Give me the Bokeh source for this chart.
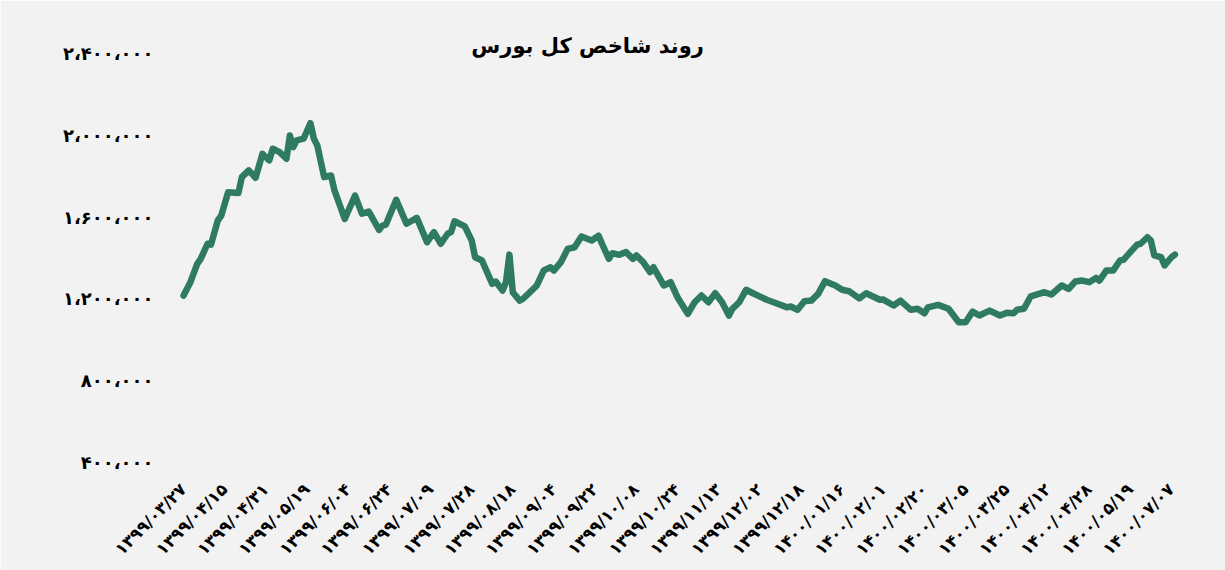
import math
from bokeh.plotting import figure
from bokeh.models import FixedTicker, Range1d, Label
from bokeh.embed import file_html
from bokeh.resources import INLINE

# ---- data (trading-day index, index value) ----
day_index = [0, 2, 4, 5, 7, 8, 10, 11, 13, 16, 17, 19, 21, 23, 25, 26, 28, 30, 31, 32,
             33, 35, 37, 38, 39, 41, 43, 44, 47, 50, 52, 54, 57, 58, 59, 62, 65, 68, 71, 73,
             75, 77, 78, 79, 82, 84, 85, 87, 90, 91, 93, 94, 95, 96, 98, 99, 101, 103, 105, 106,
             107, 108, 110, 112, 114, 116, 119, 121, 122, 124, 125, 127, 129, 131, 132, 134, 136, 137, 140, 142,
             144, 147, 149, 151, 153, 155, 157, 159, 160, 162, 164, 166, 170, 172, 176, 177, 179, 181, 183, 185,
             187, 190, 192, 194, 197, 199, 203, 204, 207, 209, 212, 214, 216, 217, 220, 223, 226, 228, 230, 232,
             235, 238, 240, 242, 243, 245, 247, 251, 253, 256, 258, 260, 262, 264, 266, 267, 269, 271, 273, 274,
             276, 278, 279, 281, 282, 283, 285, 286, 288, 289]
index_value = [1217000, 1282000, 1372000, 1396000, 1470000, 1466000, 1584000, 1608000, 1722000, 1718000,
               1796000, 1829000, 1793000, 1910000, 1878000, 1935000, 1918000, 1886000, 2000000, 1943000,
               1976000, 1984000, 2060000, 1984000, 1951000, 1796000, 1804000, 1731000, 1592000, 1706000,
               1617000, 1628000, 1538000, 1559000, 1564000, 1685000, 1568000, 1597000, 1478000, 1527000,
               1470000, 1519000, 1527000, 1580000, 1555000, 1486000, 1404000, 1388000, 1274000, 1285000,
               1241000, 1282000, 1417000, 1232000, 1192000, 1201000, 1233000, 1266000, 1339000, 1347000,
               1355000, 1339000, 1380000, 1445000, 1453000, 1506000, 1486000, 1509000, 1470000, 1396000,
               1424000, 1416000, 1429000, 1396000, 1413000, 1380000, 1331000, 1355000, 1266000, 1282000,
               1208000, 1127000, 1184000, 1217000, 1184000, 1228000, 1184000, 1119000, 1152000, 1184000,
               1245000, 1228000, 1196000, 1184000, 1159000, 1163000, 1147000, 1189000, 1192000, 1225000,
               1287000, 1266000, 1245000, 1238000, 1203000, 1228000, 1196000, 1197000, 1168000, 1192000,
               1147000, 1152000, 1130000, 1159000, 1171000, 1152000, 1086000, 1086000, 1138000, 1119000,
               1143000, 1119000, 1132000, 1130000, 1147000, 1152000, 1213000, 1233000, 1222000, 1266000,
               1249000, 1285000, 1290000, 1282000, 1303000, 1290000, 1339000, 1339000, 1388000, 1391000,
               1429000, 1466000, 1470000, 1502000, 1486000, 1413000, 1404000, 1364000, 1404000, 1417000]

x_tick_labels = ["۱۳۹۹/۰۳/۲۷", "۱۳۹۹/۰۴/۱۵", "۱۳۹۹/۰۴/۳۱", "۱۳۹۹/۰۵/۱۹", "۱۳۹۹/۰۶/۰۴",
                 "۱۳۹۹/۰۶/۲۴", "۱۳۹۹/۰۷/۰۹", "۱۳۹۹/۰۷/۲۸", "۱۳۹۹/۰۸/۱۸", "۱۳۹۹/۰۹/۰۴",
                 "۱۳۹۹/۰۹/۲۲", "۱۳۹۹/۱۰/۰۸", "۱۳۹۹/۱۰/۲۴", "۱۳۹۹/۱۱/۱۳", "۱۳۹۹/۱۲/۰۲",
                 "۱۳۹۹/۱۲/۱۸", "۱۴۰۰/۰۱/۱۶", "۱۴۰۰/۰۲/۰۱", "۱۴۰۰/۰۲/۲۰", "۱۴۰۰/۰۳/۰۵",
                 "۱۴۰۰/۰۳/۲۵", "۱۴۰۰/۰۴/۱۲", "۱۴۰۰/۰۴/۲۸", "۱۴۰۰/۰۵/۱۹", "۱۴۰۰/۰۷/۰۷"]
x_tick_step = 12

y_ticks = [400000, 800000, 1200000, 1600000, 2000000, 2400000]
y_tick_labels = ["۴۰۰،۰۰۰", "۸۰۰،۰۰۰", "۱،۲۰۰،۰۰۰", "۱،۶۰۰،۰۰۰", "۲،۰۰۰،۰۰۰", "۲،۴۰۰،۰۰۰"]

title_text = "روند شاخص کل بورس"

BG = "#f2f2f2"
LINE = "#2f7b5f"
FONT = "DejaVu Sans"

p = figure(width=1225, height=570, output_backend="svg", toolbar_location=None,
           x_range=Range1d(-3.8, 292.1), y_range=Range1d(400000, 2572000),
           min_border_left=170, min_border_right=40, min_border_top=18, min_border_bottom=108)
p.background_fill_color = BG
p.border_fill_color = BG
p.outline_line_color = None
p.xgrid.visible = False
p.ygrid.visible = False

p.line(day_index, index_value, line_color=LINE, line_width=6.5,
       line_join="round", line_cap="round")

x_ticks = [i * x_tick_step for i in range(len(x_tick_labels))]
p.xaxis.ticker = FixedTicker(ticks=x_ticks)
p.xaxis.major_label_overrides = {t: lab for t, lab in zip(x_ticks, x_tick_labels)}
p.xaxis.major_label_orientation = math.pi / 4
p.yaxis.ticker = FixedTicker(ticks=y_ticks)
p.yaxis.major_label_overrides = {t: lab for t, lab in zip(y_ticks, y_tick_labels)}

for ax in (p.xaxis, p.yaxis):
    ax.axis_line_color = None
    ax.major_tick_line_color = None
    ax.minor_tick_line_color = None
    ax.major_tick_out = 0
    ax.major_tick_in = 0
    ax.major_label_text_font = FONT
    ax.major_label_text_font_style = "bold"
    ax.major_label_text_color = "#000000"
p.xaxis.major_label_text_font_size = "16.5px"
p.yaxis.major_label_text_font_size = "18px"
p.xaxis.major_label_standoff = 24
p.yaxis.major_label_standoff = 17

p.add_layout(Label(x=117.8, y=2436000, text=title_text, text_align="center",
                   text_baseline="middle", text_font=FONT, text_font_style="bold",
                   text_font_size="21px", text_color="#000000"))

open("out.html", "w").write(file_html(p, INLINE))
